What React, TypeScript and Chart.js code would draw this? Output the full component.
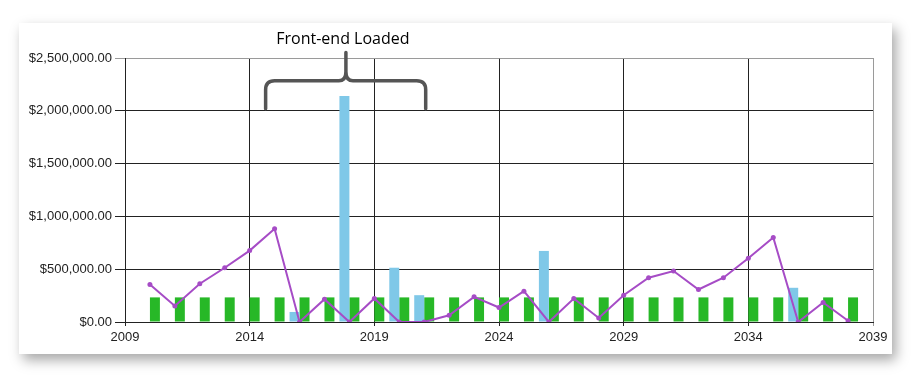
import React, { useEffect, useRef } from "react";
import { Chart, registerables } from "chart.js";

Chart.register(...registerables);

const years = [2010, 2011, 2012, 2013, 2014, 2015, 2016, 2017, 2018, 2019, 2020, 2021, 2022, 2023, 2024, 2025, 2026, 2027, 2028, 2029, 2030, 2031, 2032, 2033, 2034, 2035, 2036, 2037, 2038];
const greenValues = [233000, 233000, 233000, 233000, 233000, 233000, 233000, 233000, 233000, 233000, 233000, 233000, 233000, 233000, 233000, 233000, 233000, 233000, 233000, 233000, 233000, 233000, 233000, 233000, 233000, 233000, 233000, 233000, 233000];
const lineValues = [356000, 152000, 362000, 514000, 676000, 883000, 0, 216000, 0, 223000, 0, 0, 64000, 238000, 137000, 292000, 0, 223000, 38000, 254000, 419000, 483000, 308000, 419000, 604000, 800000, 0, 185000, 12000];
const blueYears = [2016, 2018, 2020, 2021, 2026, 2036];
const blueValues = [95000, 2140000, 514000, 254000, 673000, 324000];

const xMin = 2009;
const xMax = 2039;
const yMax = 2500000;

const annotationText = "Front-end Loaded";
const braceFromYear = 2014.64;
const braceToYear = 2021.06;
const braceMidYear = 2017.86;
const braceBottomValue = 2019000;
const braceTopValue = 2285000;
const braceTipValue = 2551000;
const textBaselineValue = 2630000;

const bracePlugin = {
  id: "brace",
  afterDatasetsDraw(chart: any) {
    const ctx = chart.ctx;
    const xs = chart.scales.x;
    const ys = chart.scales.y;
    const L = xs.getPixelForValue(braceFromYear);
    const R = xs.getPixelForValue(braceToYear);
    const C = xs.getPixelForValue(braceMidYear);
    const B = ys.getPixelForValue(braceBottomValue);
    const T = ys.getPixelForValue(braceTopValue);
    const P = ys.getPixelForValue(braceTipValue);
    const r = 9;
    ctx.save();
    ctx.strokeStyle = "#555555";
    ctx.lineWidth = 3.5;
    ctx.lineCap = "round";
    ctx.lineJoin = "round";
    ctx.beginPath();
    ctx.moveTo(L, B);
    ctx.lineTo(L, T + r);
    ctx.quadraticCurveTo(L, T, L + r, T);
    ctx.lineTo(C - 7, T);
    ctx.quadraticCurveTo(C, T, C, T - 9);
    ctx.lineTo(C, P);
    ctx.moveTo(C, T - 9);
    ctx.quadraticCurveTo(C, T, C + 7, T);
    ctx.lineTo(R - r, T);
    ctx.quadraticCurveTo(R, T, R, T + r);
    ctx.lineTo(R, B);
    ctx.stroke();
    ctx.fillStyle = "#000000";
    ctx.font = "16px 'Open Sans', sans-serif";
    ctx.textAlign = "center";
    ctx.textBaseline = "alphabetic";
    ctx.fillText(annotationText, C - 3, ys.getPixelForValue(textBaselineValue));
    ctx.restore();
  },
};

export default function App() {
  const ref = useRef<HTMLCanvasElement | null>(null);
  useEffect(() => {
    if (!ref.current) return;
    const tickFont = { family: "'Liberation Sans', Arial, sans-serif", size: 13 };
    const chart = new Chart(ref.current, {
      type: "bar",
      data: {
        datasets: [
          {
            type: "line",
            label: "Line",
            data: years.map((x, i) => ({ x, y: lineValues[i] })),
            borderColor: "#A64CC6",
            backgroundColor: "#A64CC6",
            borderWidth: 2,
            pointRadius: 2.5,
            pointBackgroundColor: "#A64CC6",
            pointBorderWidth: 0,
            tension: 0,
            order: 0,
          } as any,
          {
            type: "bar",
            label: "Blue",
            data: blueYears.map((x, i) => ({ x, y: blueValues[i] })),
            backgroundColor: "#7FC8E8",
            categoryPercentage: 0.8,
            barPercentage: 1.0,
            order: 1,
          },
          {
            type: "bar",
            label: "Green",
            data: years.map((x, i) => ({ x, y: greenValues[i] })),
            backgroundColor: "#27B827",
            categoryPercentage: 0.8,
            barPercentage: 1.0,
            order: 1,
          },
        ],
      },
      options: {
        animation: false,
        responsive: false,
        maintainAspectRatio: false,
        layout: { padding: { left: 0, right: 43, top: 58, bottom: 29 } },
        plugins: { legend: { display: false }, tooltip: { enabled: false } },
        scales: {
          x: {
            type: "linear",
            min: xMin,
            max: xMax,
            offset: false,
            grid: {
              offset: false,
              color: (c: any) => (c.tick && c.tick.value === xMax ? "#9a9a9a" : "#222222"),
              lineWidth: 1,
              tickLength: 4,
              drawTicks: true,
            },
            border: { color: "#222222", width: 1 },
            ticks: {
              stepSize: 5,
              color: "#222222",
              font: tickFont,
              padding: 4,
              maxRotation: 0,
              callback: (v: any) => String(v),
            },
            afterFit: (s: any) => {
              s.height = 30;
            },
          },
          y: {
            min: 0,
            max: yMax,
            grid: {
              color: (c: any) => (c.tick && c.tick.value === yMax ? "#9a9a9a" : "#222222"),
              lineWidth: 1,
              tickLength: 10,
            },
            border: { color: "#222222", width: 1 },
            ticks: {
              stepSize: 500000,
              color: "#222222",
              font: tickFont,
              padding: 3,
              callback: (v: any) =>
                "$" + Number(v).toLocaleString("en-US", { minimumFractionDigits: 2, maximumFractionDigits: 2 }),
            },
            afterFit: (s: any) => {
              s.width = 125;
            },
          },
        },
      },
      plugins: [bracePlugin],
    });
    return () => chart.destroy();
  }, []);

  return (
    <div style={{ position: "fixed", left: 0, top: 0, width: 916, height: 381, background: "#ffffff", overflow: "hidden" }}>
      <div
        style={{
          position: "absolute",
          left: 19,
          top: 23,
          width: 873,
          height: 331,
          background: "#ffffff",
          boxShadow: "4px 6px 12px rgba(0,0,0,0.35)",
        }}
      />
      <canvas ref={ref} width={916} height={381} style={{ position: "absolute", left: 0, top: 0, width: 916, height: 381 }} />
    </div>
  );
}
